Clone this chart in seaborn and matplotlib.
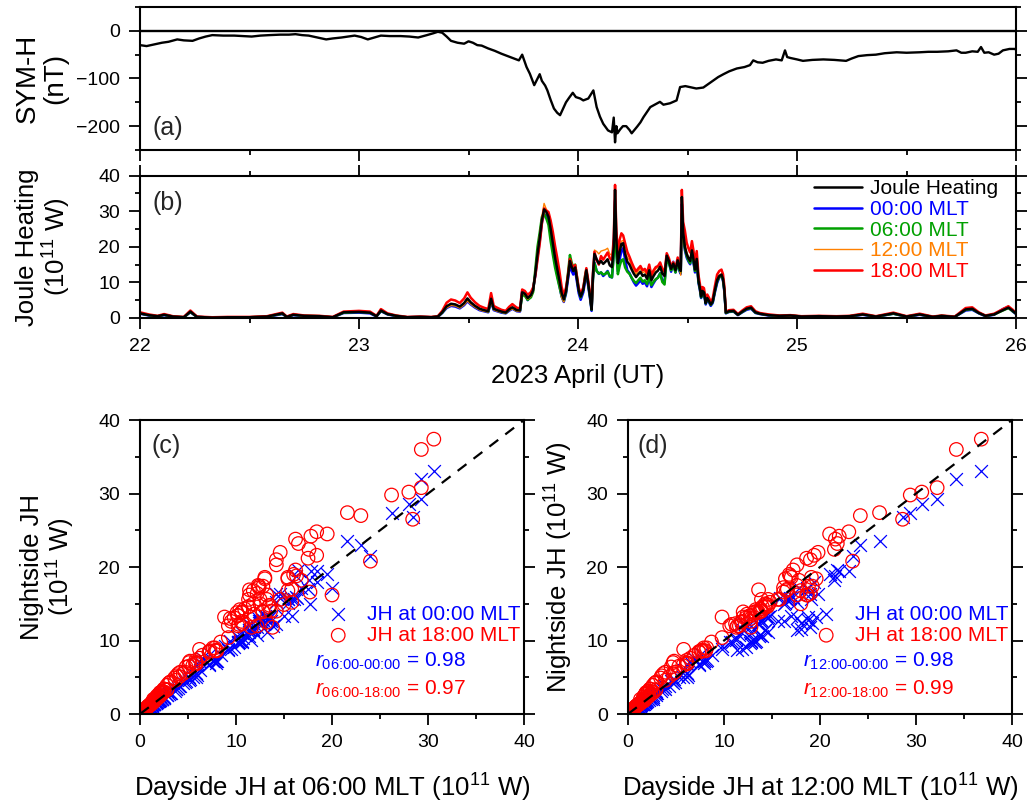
import matplotlib
matplotlib.use("Agg")
import matplotlib.pyplot as plt
from matplotlib.ticker import MultipleLocator
from matplotlib.lines import Line2D
import seaborn as sns

# ---- SYM-H (nT) ----
symh_day = [22.00, 22.03, 22.07, 22.10, 22.13, 22.17, 22.20, 22.24, 22.27, 22.30,
            22.33, 22.38, 22.43, 22.47, 22.51, 22.55, 22.59, 22.64, 22.68, 22.71,
            22.74, 22.77, 22.81, 22.85, 22.88, 22.92, 22.95, 22.98, 23.01, 23.04,
            23.07, 23.10, 23.14, 23.19, 23.23, 23.27, 23.31, 23.34, 23.36, 23.38,
            23.40, 23.42, 23.45, 23.48, 23.50, 23.52, 23.54, 23.56, 23.59, 23.62,
            23.65, 23.69, 23.73, 23.745, 23.765, 23.78, 23.80, 23.815, 23.825, 23.835,
            23.85, 23.86, 23.875, 23.89, 23.905, 23.918, 23.93, 23.945, 23.96, 23.976,
            23.99, 24.01, 24.024, 24.047, 24.07, 24.085, 24.10, 24.115, 24.137, 24.155,
            24.163, 24.169, 24.175, 24.18, 24.192, 24.205, 24.22, 24.235, 24.245, 24.27,
            24.285, 24.299, 24.315, 24.33, 24.35, 24.374, 24.39, 24.42, 24.45, 24.466,
            24.49, 24.511, 24.54, 24.572, 24.60, 24.618, 24.64, 24.664, 24.69, 24.725,
            24.76, 24.785, 24.80, 24.82, 24.843, 24.87, 24.904, 24.93, 24.945, 24.955,
            24.97, 25.00, 25.027, 25.07, 25.12, 25.17, 25.224, 25.25, 25.28, 25.32,
            25.36, 25.40, 25.455, 25.50, 25.56, 25.60, 25.64, 25.69, 25.728, 25.75,
            25.77, 25.80, 25.825, 25.84, 25.855, 25.875, 25.90, 25.92, 25.94, 25.97,
            25.995, 26.00]
symh_nt = [-30, -32, -28, -25, -23, -18, -20, -21, -16, -12,
           -9, -10, -10, -11, -12, -10, -9, -8, -8, -7,
           -9, -10, -14, -18, -16, -14, -12, -10, -13, -18,
           -14, -10, -11, -11, -12, -14, -9, -5, -2, -4,
           -12, -21, -25, -27, -22, -25, -30, -31, -37, -42,
           -48, -55, -62, -50, -76, -90, -114, -100, -91, -105,
           -115, -125, -145, -163, -172, -177, -165, -150, -140, -130,
           -139, -142, -146, -142, -125, -160, -180, -195, -209, -213,
           -182, -234, -200, -215, -207, -200, -200, -208, -215, -201,
           -192, -181, -170, -160, -155, -149, -155, -152, -146, -118,
           -116, -118, -121, -119, -110, -104, -97, -91, -85, -79,
           -76, -72, -62, -66, -67, -63, -60, -62, -41, -55,
           -57, -60, -63, -61, -60, -61, -63, -58, -53, -51,
           -50, -47, -45, -46, -45, -44, -44, -43, -41, -46,
           -46, -43, -44, -34, -46, -45, -50, -48, -41, -38,
           -38, -40]

# ---- Joule heating (1e11 W), panel (b); same times feed panels (c), (d) ----
jh_day = [22.00, 22.04, 22.08, 22.11, 22.15, 22.20, 22.23, 22.26, 22.33, 22.40,
          22.50, 22.58, 22.65, 22.67, 22.70, 22.75, 22.82, 22.88, 22.93, 23.00,
          23.05, 23.08, 23.10, 23.13, 23.17, 23.22, 23.28, 23.33, 23.36, 23.38,
          23.40, 23.42, 23.44, 23.46, 23.48, 23.495, 23.51, 23.53, 23.55, 23.57,
          23.59, 23.603, 23.615, 23.63, 23.65, 23.67, 23.685, 23.70, 23.72, 23.735,
          23.745, 23.757, 23.77, 23.785, 23.795, 23.805, 23.815, 23.825, 23.835, 23.845,
          23.855, 23.865, 23.875, 23.885, 23.895, 23.905, 23.915, 23.925, 23.935, 23.945,
          23.955, 23.963, 23.97, 23.978, 23.987, 23.995, 24.003, 24.012, 24.024, 24.033,
          24.038, 24.047, 24.055, 24.062, 24.068, 24.075, 24.085, 24.095, 24.105, 24.115,
          24.125, 24.135, 24.145, 24.155, 24.163, 24.169, 24.175, 24.182, 24.19, 24.198,
          24.206, 24.215, 24.225, 24.235, 24.245, 24.255, 24.265, 24.275, 24.285, 24.295,
          24.305, 24.315, 24.325, 24.335, 24.345, 24.355, 24.365, 24.375, 24.385, 24.395,
          24.405, 24.415, 24.425, 24.435, 24.445, 24.455, 24.463, 24.469, 24.474, 24.48,
          24.488, 24.496, 24.504, 24.512, 24.52, 24.527, 24.534, 24.542, 24.55, 24.556,
          24.562, 24.568, 24.575, 24.583, 24.59, 24.598, 24.606, 24.615, 24.625, 24.635,
          24.645, 24.655, 24.662, 24.668, 24.675, 24.69, 24.71, 24.73, 24.75, 24.77,
          24.79, 24.81, 24.83, 24.87, 24.92, 24.97, 25.02, 25.10, 25.18, 25.24,
          25.30, 25.36, 25.44, 25.50, 25.56, 25.62, 25.66, 25.72, 25.77, 25.80,
          25.83, 25.86, 25.90, 25.94, 25.965, 25.985, 26.00]
jh_all = [1.3, 0.8, 0.5, 0.9, 0.4, 0.2, 1.8, 0.3, 0.1, 0.2,
          0.2, 0.4, 1.3, 0.3, 0.9, 0.6, 0.5, 0.2, 1.6, 1.7,
          1.5, 0.5, 2.1, 1.1, 0.6, 0.2, 0.3, 0.2, 0.4, 1.6,
          3.3, 4.0, 3.8, 3.2, 4.2, 5.5, 4.4, 3.4, 2.6, 2.2,
          1.9, 5.4, 2.6, 2.2, 1.8, 1.5, 2.4, 3.0, 2.2, 2.1,
          7.2, 6.8, 5.6, 6.4, 7.8, 12.5, 18.0, 22.5, 27.5, 30.5,
          29.8, 28.5, 25.0, 21.0, 17.0, 13.8, 10.5, 7.0, 5.2, 7.5,
          12.0, 16.0, 14.5, 13.2, 14.2, 11.0, 7.8, 6.0, 7.9, 11.5,
          13.4, 9.5, 6.0, 2.4, 12.0, 18.0, 16.5, 15.3, 16.0, 15.2,
          15.8, 16.5, 14.8, 14.3, 20.0, 36.0, 22.0, 15.4, 18.5, 20.8,
          21.0, 18.0, 15.8, 15.0, 13.6, 12.4, 11.5, 12.3, 13.0, 11.8,
          12.2, 11.0, 13.4, 10.6, 11.8, 12.8, 13.3, 14.4, 12.5, 11.8,
          17.5, 16.0, 13.8, 15.3, 13.4, 16.2, 14.0, 13.2, 34.0, 24.0,
          20.0, 18.0, 16.8, 16.0, 19.0, 16.5, 13.6, 16.6, 10.5, 8.6,
          6.0, 7.6, 7.2, 4.2, 5.6, 4.8, 3.8, 4.6, 7.8, 10.6,
          11.8, 12.2, 11.0, 8.0, 1.5, 1.9, 2.0, 0.9, 1.8, 2.6,
          2.9, 1.6, 1.2, 0.8, 0.6, 0.7, 0.4, 0.5, 0.4, 0.5,
          1.0, 0.4, 1.3, 0.4, 1.0, 0.3, 0.6, 0.3, 2.4, 2.6,
          1.4, 0.6, 1.0, 2.2, 2.9, 2.0, 1.2]
jh_00 = [1.2, 0.7, 0.4, 0.8, 0.3, 0.2, 1.6, 0.3, 0.1, 0.2,
         0.2, 0.3, 1.1, 0.3, 0.8, 0.5, 0.4, 0.2, 1.4, 1.5,
         1.3, 0.4, 1.9, 1.0, 0.5, 0.2, 0.3, 0.2, 0.3, 1.4,
         2.8, 3.4, 3.2, 2.7, 3.6, 4.7, 3.8, 2.9, 2.2, 1.9,
         1.6, 4.6, 2.2, 1.9, 1.5, 1.3, 2.0, 2.6, 1.9, 1.8,
         7.6, 7.1, 5.0, 6.8, 8.2, 12.0, 17.2, 21.5, 26.8, 29.2,
         28.6, 27.4, 23.6, 19.4, 15.3, 12.2, 9.2, 6.0, 4.5, 6.8,
         11.2, 15.0, 13.4, 12.2, 13.3, 10.1, 7.0, 5.1, 7.2, 10.8,
         12.6, 8.8, 5.3, 2.0, 11.0, 15.6, 13.2, 12.4, 12.8, 11.8,
         12.4, 13.2, 11.6, 11.4, 18.2, 33.0, 19.5, 13.0, 16.4, 18.8,
         19.6, 16.4, 13.4, 12.6, 11.2, 10.0, 9.1, 9.8, 10.6, 9.6,
         10.0, 8.9, 11.4, 8.7, 9.8, 10.8, 11.4, 12.6, 10.6, 10.0,
         17.2, 15.6, 13.0, 15.8, 12.8, 15.6, 13.2, 12.4, 32.0, 23.0,
         19.0, 17.0, 15.9, 15.1, 18.0, 15.6, 12.8, 15.8, 9.8, 8.0,
         5.6, 7.2, 6.7, 3.8, 5.1, 4.4, 3.4, 4.2, 7.2, 9.8,
         11.4, 11.8, 10.4, 7.4, 1.3, 1.7, 1.8, 0.8, 1.6, 2.3,
         2.6, 1.4, 1.1, 0.7, 0.5, 0.6, 0.4, 0.4, 0.3, 0.4,
         0.9, 0.3, 1.2, 0.3, 0.9, 0.3, 0.5, 0.3, 2.1, 2.3,
         1.3, 0.5, 0.9, 2.5, 3.1, 1.8, 1.1]
jh_06 = [1.3, 0.8, 0.5, 0.9, 0.4, 0.2, 1.7, 0.3, 0.1, 0.2,
         0.2, 0.4, 1.2, 0.3, 0.9, 0.6, 0.5, 0.2, 1.5, 1.7,
         1.5, 0.5, 2.0, 1.1, 0.6, 0.2, 0.3, 0.2, 0.4, 1.5,
         3.1, 3.8, 3.6, 3.0, 4.0, 5.2, 4.2, 3.2, 2.5, 2.1,
         1.8, 5.1, 2.5, 2.1, 1.7, 1.4, 2.3, 2.8, 2.1, 2.0,
         6.5, 6.2, 5.1, 5.8, 7.3, 13.8, 20.0, 24.0, 28.4, 29.3,
         28.0, 26.2, 21.6, 17.8, 14.2, 11.4, 8.8, 6.2, 4.8, 7.2,
         13.2, 17.7, 15.8, 14.2, 15.0, 11.6, 7.9, 5.8, 8.0, 12.2,
         13.6, 9.2, 5.9, 2.3, 10.6, 15.4, 13.2, 12.5, 12.8, 12.2,
         12.4, 13.0, 11.8, 11.4, 17.6, 30.6, 18.4, 12.3, 14.6, 16.2,
         16.5, 14.2, 13.0, 12.4, 11.3, 10.4, 9.8, 10.6, 11.3, 10.2,
         10.6, 9.5, 11.8, 9.2, 10.2, 10.9, 11.3, 12.5, 10.1, 9.4,
         16.8, 15.4, 13.4, 14.6, 12.8, 15.8, 13.5, 12.8, 29.3, 23.0,
         19.5, 17.5, 16.2, 15.4, 18.4, 16.0, 13.2, 16.3, 10.2, 8.4,
         5.8, 7.9, 7.2, 4.1, 5.5, 4.7, 3.7, 4.5, 7.6, 10.3,
         11.5, 11.9, 10.7, 7.8, 1.4, 1.8, 1.9, 0.9, 1.7, 2.5,
         2.8, 1.5, 1.2, 0.8, 0.6, 0.7, 0.4, 0.5, 0.4, 0.5,
         1.0, 0.4, 1.2, 0.4, 1.0, 0.3, 0.6, 0.3, 2.3, 2.5,
         1.4, 0.6, 1.0, 2.1, 2.8, 1.9, 1.2]
jh_12 = [1.4, 0.8, 0.5, 0.9, 0.4, 0.2, 1.8, 0.3, 0.1, 0.2,
         0.2, 0.4, 1.3, 0.3, 0.9, 0.6, 0.5, 0.2, 1.7, 1.8,
         1.6, 0.5, 2.2, 1.1, 0.6, 0.2, 0.3, 0.2, 0.4, 1.6,
         2.9, 3.5, 3.4, 2.8, 3.7, 4.8, 3.9, 3.0, 2.3, 1.9,
         1.7, 4.7, 2.3, 1.9, 1.6, 1.3, 2.1, 2.6, 1.9, 1.8,
         6.9, 6.5, 5.3, 6.1, 7.6, 12.8, 18.6, 23.4, 28.6, 32.2,
         30.6, 29.4, 26.2, 22.0, 17.6, 13.6, 9.8, 5.8, 4.5, 7.4,
         11.8, 16.2, 14.8, 13.5, 14.4, 11.3, 7.9, 6.1, 8.1, 11.6,
         13.8, 9.8, 6.2, 2.6, 12.8, 19.1, 18.7, 18.0, 18.8, 19.0,
         19.2, 19.6, 18.0, 17.6, 21.5, 36.8, 23.0, 17.6, 19.8, 21.6,
         21.8, 19.0, 17.0, 16.2, 14.6, 13.3, 12.3, 13.2, 14.0, 12.7,
         13.1, 11.9, 14.3, 11.4, 12.8, 13.8, 14.3, 15.6, 13.6, 12.8,
         17.8, 16.5, 14.5, 15.8, 13.9, 16.6, 14.6, 12.0, 34.2, 24.2,
         21.0, 18.6, 17.2, 16.4, 19.4, 16.8, 13.9, 16.9, 10.6, 8.7,
         6.1, 7.7, 7.4, 4.3, 5.7, 4.9, 3.9, 4.7, 7.9, 10.8,
         12.0, 12.4, 11.2, 8.2, 1.5, 1.9, 2.0, 0.9, 1.8, 2.6,
         2.9, 1.6, 1.2, 0.8, 0.6, 0.7, 0.4, 0.5, 0.4, 0.5,
         1.0, 0.4, 1.3, 0.4, 1.0, 0.3, 0.6, 0.3, 2.4, 2.6,
         1.4, 0.6, 1.0, 2.2, 2.9, 2.0, 1.2]
jh_18 = [1.6, 1.0, 0.6, 1.1, 0.5, 0.3, 2.1, 0.4, 0.2, 0.3,
         0.3, 0.5, 1.5, 0.4, 1.1, 0.7, 0.6, 0.3, 1.8, 2.0,
         1.8, 0.6, 2.5, 1.3, 0.7, 0.3, 0.4, 0.3, 0.5, 2.0,
         4.3, 5.2, 4.9, 4.2, 5.5, 7.2, 5.7, 4.4, 3.4, 2.9,
         2.5, 7.0, 3.4, 2.9, 2.3, 2.0, 3.1, 3.9, 2.9, 2.7,
         8.0, 7.6, 6.5, 7.3, 8.6, 11.8, 16.2, 20.8, 26.5, 30.8,
         30.2, 29.8, 27.4, 24.2, 20.3, 16.9, 13.2, 8.8, 6.4, 8.5,
         12.5, 16.6, 15.2, 14.0, 14.9, 11.8, 8.6, 6.8, 8.6, 12.0,
         14.0, 10.4, 6.9, 2.9, 12.6, 18.6, 16.2, 15.0, 17.4, 16.4,
         17.4, 18.4, 16.8, 16.2, 22.4, 37.4, 24.8, 17.5, 22.0, 23.8,
         23.2, 21.0, 18.6, 17.2, 15.6, 14.2, 13.1, 13.9, 14.6, 13.4,
         13.8, 12.6, 15.0, 12.0, 13.4, 14.3, 14.6, 15.6, 13.8, 13.0,
         18.2, 16.8, 14.6, 15.6, 14.0, 17.0, 14.8, 13.9, 36.0, 27.0,
         24.5, 21.2, 19.6, 18.4, 21.6, 19.0, 15.6, 18.8, 12.0, 9.8,
         7.0, 8.7, 8.4, 5.1, 6.6, 5.7, 4.6, 5.5, 9.0, 12.2,
         13.2, 13.6, 12.3, 9.0, 1.8, 2.2, 2.3, 1.1, 2.1, 3.0,
         3.3, 1.9, 1.4, 1.0, 0.7, 0.8, 0.5, 0.6, 0.5, 0.6,
         1.2, 0.5, 1.5, 0.5, 1.2, 0.4, 0.7, 0.4, 2.8, 3.0,
         1.6, 0.7, 1.2, 2.5, 3.3, 2.3, 1.4]

mlt_labels = ["00:00 MLT", "06:00 MLT", "12:00 MLT", "18:00 MLT"]
mlt_colors = ["#0000FF", "#00A000", "#FF8000", "#FF0000"]
r_day_00, r_day_18 = ["0.98", "0.98"], ["0.97", "0.99"]

n = len(jh_day)
assert all(len(s) == n for s in (jh_all, jh_00, jh_06, jh_12, jh_18))
assert len(symh_day) == len(symh_nt)

sns.set_theme(style="ticks")
plt.rcParams["font.family"] = ["Liberation Sans", "DejaVu Sans"]
plt.rcParams["mathtext.fontset"] = "custom"
plt.rcParams["mathtext.rm"] = "Liberation Sans"
plt.rcParams["mathtext.it"] = "Liberation Sans:italic"
plt.rcParams["axes.edgecolor"] = "black"
plt.rcParams["xtick.color"] = "black"
plt.rcParams["ytick.color"] = "black"
plt.rcParams["axes.labelcolor"] = "black"

LABEL_FS = 18.5

fig = plt.figure(figsize=(10.31, 8.05), dpi=100)
ax_a = fig.add_axes([0.1358, 0.8137, 0.8497, 0.1776])
ax_b = fig.add_axes([0.1358, 0.6050, 0.8497, 0.1768])
ax_c = fig.add_axes([0.1358, 0.1130, 0.3725, 0.3652])
ax_d = fig.add_axes([0.6091, 0.1130, 0.3725, 0.3652])


def style_axis(ax, top=False):
    for sp in ax.spines.values():
        sp.set_linewidth(1.5)
        sp.set_visible(True)
    ax.tick_params(which="both", direction="out", right=True, top=top,
                   width=1.3, colors="black", pad=6.5, labelsize=14)
    ax.tick_params(which="major", length=7.8)
    ax.tick_params(which="minor", length=3.8)


# (a) SYM-H
sns.lineplot(x=symh_day, y=symh_nt, ax=ax_a, color="black", lw=1.7)
ax_a.axhline(0, color="black", lw=1.7)
ax_a.set_xlim(22, 26)
ax_a.set_ylim(-250, 50)
ax_a.yaxis.set_major_locator(MultipleLocator(100))
ax_a.yaxis.set_minor_locator(MultipleLocator(50))
ax_a.xaxis.set_major_locator(MultipleLocator(1))
ax_a.xaxis.set_minor_locator(MultipleLocator(0.5))
style_axis(ax_a)
ax_a.tick_params(labelbottom=False)
ax_a.set_ylabel("SYM-H\n(nT)", fontsize=20, linespacing=1.05)
ax_a.yaxis.set_label_coords(-0.082, 0.5)
ax_a.text(0.0137, 0.154, "(a)", transform=ax_a.transAxes, fontsize=18, va="center")

# (b) Joule heating
for vals, col in zip([jh_00, jh_06, jh_12, jh_18], mlt_colors):
    sns.lineplot(x=jh_day, y=vals, ax=ax_b, color=col,
                 lw=1.0 if col == "#FF8000" else 1.8)
sns.lineplot(x=jh_day, y=jh_all, ax=ax_b, color="black", lw=1.8)
ax_b.set_xlim(22, 26)
ax_b.set_ylim(0, 40)
ax_b.yaxis.set_major_locator(MultipleLocator(10))
ax_b.yaxis.set_minor_locator(MultipleLocator(5))
ax_b.xaxis.set_major_locator(MultipleLocator(1))
ax_b.xaxis.set_minor_locator(MultipleLocator(0.5))
style_axis(ax_b, top=True)
ax_b.set_ylabel("Joule Heating\n(10$^{11}$ W)", fontsize=LABEL_FS, linespacing=1.05)
ax_b.yaxis.set_label_coords(-0.077, 0.5)
ax_b.set_xlabel("2023 April (UT)", fontsize=LABEL_FS)
ax_b.xaxis.set_label_coords(0.5, -0.32)
ax_b.text(0.0137, 0.808, "(b)", transform=ax_b.transAxes, fontsize=18, va="center")
handles = [Line2D([], [], color="black", lw=1.8)] + [
    Line2D([], [], color=c, lw=1.0 if c == "#FF8000" else 1.8) for c in mlt_colors]
leg = ax_b.legend(handles, ["Joule Heating"] + mlt_labels, loc="upper right",
                  bbox_to_anchor=(0.979, 0.975), frameon=False, fontsize=15,
                  handlelength=2.3, handletextpad=0.35, labelspacing=0.08,
                  borderpad=0, borderaxespad=0)
for txt, col in zip(leg.get_texts(), ["black"] + mlt_colors):
    txt.set_color(col)

# (c), (d) nightside vs dayside scatter
panels = [(ax_c, jh_06, "06:00", "(c)", "Nightside JH\n(10$^{11}$ W)", -0.164),
          (ax_d, jh_12, "12:00", "(d)", "Nightside JH (10$^{11}$ W)", -0.138)]
for k, (ax, xday, tag, plab, ylab, ylx) in enumerate(panels):
    sns.scatterplot(x=xday, y=jh_00, ax=ax, marker="x", color="#0000FF",
                    s=85, linewidth=0.9, label="JH at 00:00 MLT")
    sns.scatterplot(x=xday, y=jh_18, ax=ax, marker="o", facecolor="none",
                    edgecolor="#FF0000", s=95, linewidth=0.9,
                    label="JH at 18:00 MLT")
    ax.plot([0, 40], [0, 40], color="black", ls=(0, (5, 4)), lw=1.6)
    ax.set_xlim(0, 40)
    ax.set_ylim(0, 40)
    for axis in (ax.xaxis, ax.yaxis):
        axis.set_major_locator(MultipleLocator(10))
        axis.set_minor_locator(MultipleLocator(5))
    style_axis(ax)
    ax.set_xlabel(f"Dayside JH at {tag} MLT (10$^{{11}}$ W)", fontsize=LABEL_FS)
    ax.xaxis.set_label_coords(0.5, -0.197)
    ax.set_ylabel(ylab, fontsize=LABEL_FS, linespacing=1.05)
    ax.yaxis.set_label_coords(ylx, 0.5)
    ax.text(0.03 if k == 0 else 0.026, 0.912, plab, transform=ax.transAxes,
            fontsize=18, va="center")
    lg = ax.legend(loc="center left", bbox_to_anchor=(0.489, 0.304), frameon=False,
                   fontsize=15, handlelength=1.0, handletextpad=0.9,
                   labelspacing=0.1, borderpad=0, borderaxespad=0)
    for txt, col in zip(lg.get_texts(), ["#0000FF", "#FF0000"]):
        txt.set_color(col)
    ax.text(0.456, 0.160, r"$\mathit{r}_{\text{" + tag + "-00:00}}$ = " + r_day_00[k],
            transform=ax.transAxes, fontsize=15, color="#0000FF", va="baseline")
    ax.text(0.456, 0.065, r"$\mathit{r}_{\text{" + tag + "-18:00}}$ = " + r_day_18[k],
            transform=ax.transAxes, fontsize=15, color="#FF0000", va="baseline")

fig.savefig("out.png", dpi=100)
